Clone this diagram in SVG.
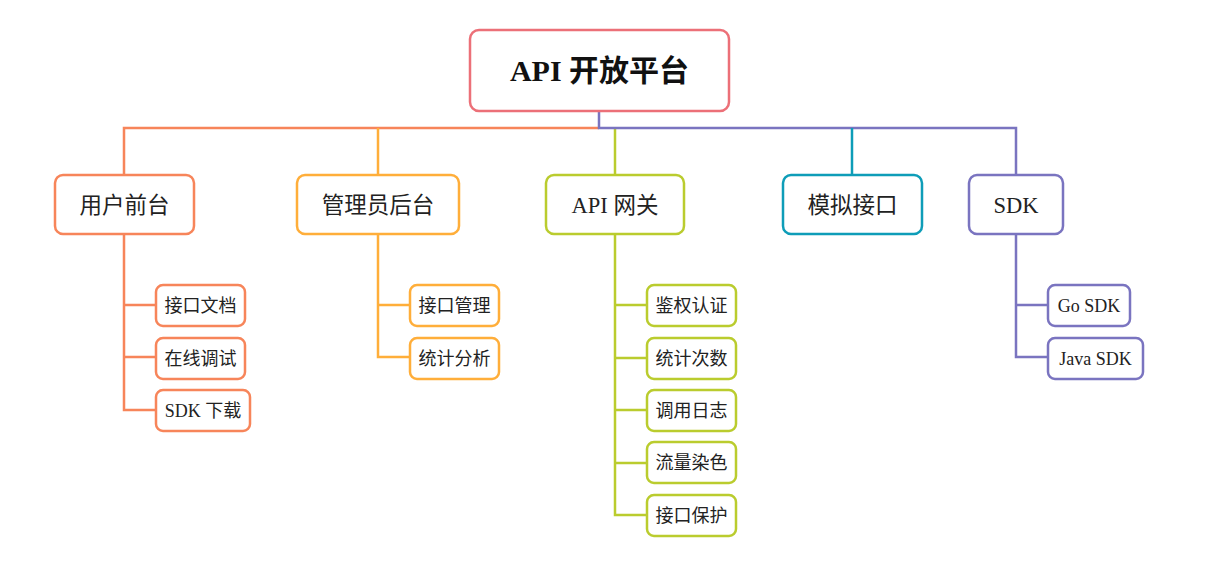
<svg xmlns="http://www.w3.org/2000/svg" width="1221" height="573" viewBox="0 0 1221 573">
<style>
  .box { fill: #ffffff; stroke-width: 2.5; }
  .ln { fill: none; stroke-width: 2.5; }
  .t { font-family: "Liberation Serif", "Noto Sans CJK SC", serif; fill: #222222; text-anchor: middle; }
  .main { font-size: 22.5px; }
  .sub { font-size: 18px; }
  .root { font-size: 30px; font-weight: bold; fill: #111111; }
  .c-red { stroke: #EC7078; }
  .c-or { stroke: #F7855A; }
  .c-yo { stroke: #FFAE3A; }
  .c-gr { stroke: #BACC2E; }
  .c-te { stroke: #0E9DB8; }
  .c-pu { stroke: #7A74C0; }
</style>
<rect width="1221" height="573" fill="#ffffff"/>
<g id="connectors">
  <path class="ln c-or" d="M599,128 H124 V175"/>
  <path class="ln c-yo" d="M378,128 V175"/>
  <path class="ln c-gr" d="M615,128 V175"/>
  <path class="ln c-pu" d="M599,111 V128 H1016 V175"/>
  <path class="ln c-te" d="M852,128 V175"/>
  <path class="ln c-or" d="M124,234 V410 H156 M124,305 H156 M124,357 H156"/>
  <path class="ln c-yo" d="M378,234 V357 H410 M378,305 H410"/>
  <path class="ln c-gr" d="M615,234 V515 H647 M615,305 H647 M615,358 H647 M615,410 H647 M615,463 H647"/>
  <path class="ln c-pu" d="M1016,234 V357 H1048 M1016,305 H1048"/>
</g>
<g id="root">
  <rect class="box c-red" x="470" y="30" width="259" height="81" rx="9"/>
  <text class="t root" x="599.5" y="81">API 开放平台</text>
</g>
<g id="n-user">
  <rect class="box c-or" x="55" y="175" width="139" height="59" rx="8"/>
  <text class="t main" x="124.5" y="212.5">用户前台</text>
</g>
<g id="n-admin">
  <rect class="box c-yo" x="297" y="175" width="162" height="59" rx="8"/>
  <text class="t main" x="378" y="212.5">管理员后台</text>
</g>
<g id="n-gateway">
  <rect class="box c-gr" x="546" y="175" width="138" height="59" rx="8"/>
  <text class="t main" x="615" y="212.5">API 网关</text>
</g>
<g id="n-mock">
  <rect class="box c-te" x="783" y="175" width="139" height="59" rx="8"/>
  <text class="t main" x="852.5" y="212.5">模拟接口</text>
</g>
<g id="n-sdk">
  <rect class="box c-pu" x="969" y="175" width="94" height="59" rx="8"/>
  <text class="t main" x="1016" y="212.5">SDK</text>
</g>
<g id="u1"><rect class="box c-or" x="156" y="285" width="89" height="41" rx="7"/><text class="t sub" x="200.5" y="311.5">接口文档</text></g>
<g id="u2"><rect class="box c-or" x="156" y="338" width="89" height="41" rx="7"/><text class="t sub" x="200.5" y="364.5">在线调试</text></g>
<g id="u3"><rect class="box c-or" x="156" y="390" width="94" height="41" rx="7"/><text class="t sub" x="203" y="416.5">SDK 下载</text></g>
<g id="a1"><rect class="box c-yo" x="410" y="285" width="89" height="41" rx="7"/><text class="t sub" x="454.5" y="311.5">接口管理</text></g>
<g id="a2"><rect class="box c-yo" x="410" y="338" width="89" height="41" rx="7"/><text class="t sub" x="454.5" y="364.5">统计分析</text></g>
<g id="g1"><rect class="box c-gr" x="647" y="285" width="89" height="41" rx="7"/><text class="t sub" x="691.5" y="311.5">鉴权认证</text></g>
<g id="g2"><rect class="box c-gr" x="647" y="338" width="89" height="41" rx="7"/><text class="t sub" x="691.5" y="364.5">统计次数</text></g>
<g id="g3"><rect class="box c-gr" x="647" y="390" width="89" height="41" rx="7"/><text class="t sub" x="691.5" y="416.5">调用日志</text></g>
<g id="g4"><rect class="box c-gr" x="647" y="442" width="89" height="41" rx="7"/><text class="t sub" x="691.5" y="468.5">流量染色</text></g>
<g id="g5"><rect class="box c-gr" x="647" y="495" width="89" height="41" rx="7"/><text class="t sub" x="691.5" y="521.5">接口保护</text></g>
<g id="s1"><rect class="box c-pu" x="1048" y="285" width="82" height="41" rx="7"/><text class="t sub" x="1089" y="311.5">Go SDK</text></g>
<g id="s2"><rect class="box c-pu" x="1048" y="338" width="95" height="41" rx="7"/><text class="t sub" x="1095.5" y="364.5">Java SDK</text></g>
</svg>
